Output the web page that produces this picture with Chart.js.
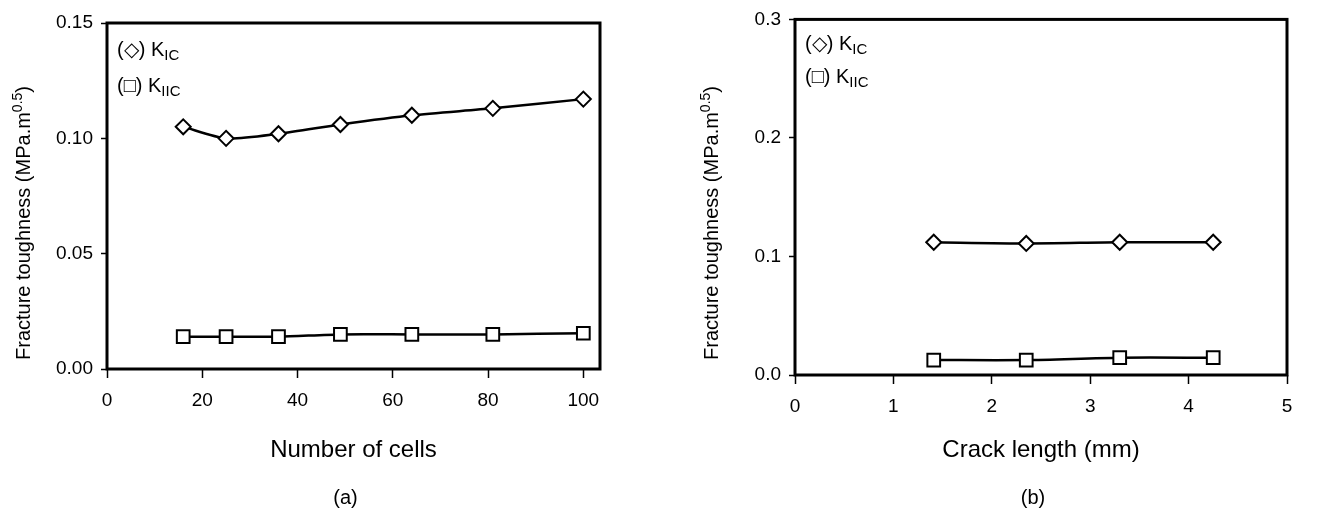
<!DOCTYPE html>
<html><head><meta charset="utf-8">
<script src="https://cdn.jsdelivr.net/npm/chart.js@4"></script>
<style>
html,body{margin:0;padding:0;background:#fff;}
#wrap{position:relative;width:1324px;height:513px;overflow:hidden;}
.box{position:absolute;top:0;height:513px;width:662px;}
canvas{display:block;}
</style></head><body>
<div id="wrap">
<div class="box" style="left:0"><canvas id="ca" width="662" height="513"></canvas></div>
<div class="box" style="left:662px"><canvas id="cb" width="662" height="513"></canvas></div>
</div>
<script>
// ---- data ----
const cellsX    = [16, 25, 36, 49, 64, 81, 100];
const cellsKIC  = [0.105, 0.100, 0.102, 0.106, 0.110, 0.113, 0.117];
const cellsKIIC = [0.014, 0.014, 0.014, 0.015, 0.015, 0.015, 0.0155];
const crackX    = [1.41, 2.35, 3.30, 4.25];
const crackKIC  = [0.112, 0.111, 0.112, 0.112];
const crackKIIC = [0.0126, 0.0126, 0.0146, 0.0146];
const xTicksA = [0, 20, 40, 60, 80, 100];
const yTicksA = [0, 0.05, 0.10, 0.15];
const xTicksB = [0, 1, 2, 3, 4, 5];
const yTicksB = [0, 0.1, 0.2, 0.3];
const xTitleA = 'Number of cells';
const xTitleB = 'Crack length (mm)';
const captionA = '(a)';
const captionB = '(b)';

const FONT = '"Liberation Sans", Arial, Helvetica, sans-serif';

function drawParts(ctx, parts, x, y) {
  let cx = x;
  for (const p of parts) {
    ctx.font = p.size + 'px ' + FONT;
    ctx.fillText(p.t, cx, y + (p.dy || 0));
    cx += ctx.measureText(p.t).width;
  }
}
function partsWidth(ctx, parts) {
  let w = 0;
  for (const p of parts) { ctx.font = p.size + 'px ' + FONT; w += ctx.measureText(p.t).width; }
  return w;
}

function annotPlugin(cfg) {
  return {
    id: 'annot',
    beforeDatasetsDraw(chart) {
      const ctx = chart.ctx, a = chart.chartArea;
      ctx.save();
      ctx.strokeStyle = '#000';
      ctx.lineWidth = 3;
      ctx.strokeRect(a.left, a.top, a.right - a.left, a.bottom - a.top);
      ctx.restore();
    },
    afterDraw(chart) {
      const ctx = chart.ctx, a = chart.chartArea;
      ctx.save();
      ctx.fillStyle = '#000';
      ctx.textBaseline = 'alphabetic';
      ctx.textAlign = 'left';
      // legend text
      drawParts(ctx, [{t:'(\u25C7) K', size:20}, {t:'IC', size:15, dy:4}], a.left + 10, a.top + cfg.leg1);
      drawParts(ctx, [{t:'(\u25A1) K', size:20}, {t:'IIC', size:15, dy:4}], a.left + 10, a.top + cfg.leg2);
      // y title (rotated)
      const yParts = [{t:'Fracture toughness (MPa.m', size:20}, {t:'0.5', size:14, dy:-8}, {t:')', size:20}];
      const w = partsWidth(ctx, yParts);
      const yc = 223;
      ctx.save();
      ctx.translate(a.left - 77.5, yc);
      ctx.rotate(-Math.PI / 2);
      drawParts(ctx, yParts, -w / 2, 0);
      ctx.restore();
      // x title + caption
      const xc = (a.left + a.right) / 2;
      ctx.textAlign = 'center';
      ctx.font = '24px ' + FONT;
      ctx.fillText(cfg.xTitle, xc, 457);
      ctx.font = '20px ' + FONT;
      ctx.fillText(cfg.caption, xc - 8, 504);
      ctx.restore();
    }
  };
}

function makeChart(id, xs, kic, kiic, xTicks, yTicks, xMax, yMax, dec, lay, cfg) {
  const ds = (data, style, radius) => ({
    data: xs.map((x, i) => ({x, y: data[i]})),
    borderColor: '#000',
    borderWidth: 2.5,
    backgroundColor: '#fff',
    pointStyle: style,
    pointRadius: radius,
    pointHoverRadius: radius,
    pointBorderWidth: 2,
    pointBackgroundColor: '#fff',
    pointBorderColor: '#000',
    tension: 0.25,
    fill: false
  });
  return new Chart(document.getElementById(id), {
    type: 'line',
    data: { datasets: [ds(kic, 'rectRot', 7.5), ds(kiic, 'rect', 9)] },
    options: {
      responsive: false,
      animation: false,
      devicePixelRatio: 1,
      layout: { padding: { top: lay.top, right: lay.right, left: 0, bottom: 0 } },
      plugins: { legend: { display: false }, tooltip: { enabled: false } },
      scales: {
        x: {
          type: 'linear', min: 0, max: xMax,
          afterBuildTicks: s => { s.ticks = xTicks.map(v => ({value: v})); },
          afterFit: s => { s.height = lay.xh; },
          ticks: { color: '#000', font: { family: FONT, size: 19 }, padding: 11, maxRotation: 0, autoSkip: false,
                   callback: v => String(v) },
          grid: { display: true, drawOnChartArea: false, drawTicks: true, tickLength: 9, tickColor: '#000', tickWidth: 1.5 },
          border: { display: false }
        },
        y: {
          type: 'linear', min: 0, max: yMax,
          afterBuildTicks: s => { s.ticks = yTicks.map(v => ({value: v})); },
          afterFit: s => { s.width = lay.yw; },
          ticks: { color: '#000', font: { family: FONT, size: 19 }, padding: 8, autoSkip: false,
                   callback: v => Number(v).toFixed(dec) },
          grid: { display: true, drawOnChartArea: false, drawTicks: true, tickLength: 6, tickColor: '#000', tickWidth: 1.5 },
          border: { display: false }
        }
      }
    },
    plugins: [annotPlugin(cfg)]
  });
}

makeChart('ca', cellsX, cellsKIC, cellsKIIC, xTicksA, yTicksA, 103.5, 0.15, 2,
  { top: 23, right: 62, yw: 107, xh: 513 - 369 },
  { leg1: 33, leg2: 69, xTitle: xTitleA, caption: captionA });
makeChart('cb', crackX, crackKIC, crackKIIC, xTicksB, yTicksB, 5, 0.3, 1,
  { top: 19, right: 37, yw: 133, xh: 513 - 375 },
  { leg1: 31, leg2: 64, xTitle: xTitleB, caption: captionB });
</script>
</body></html>
